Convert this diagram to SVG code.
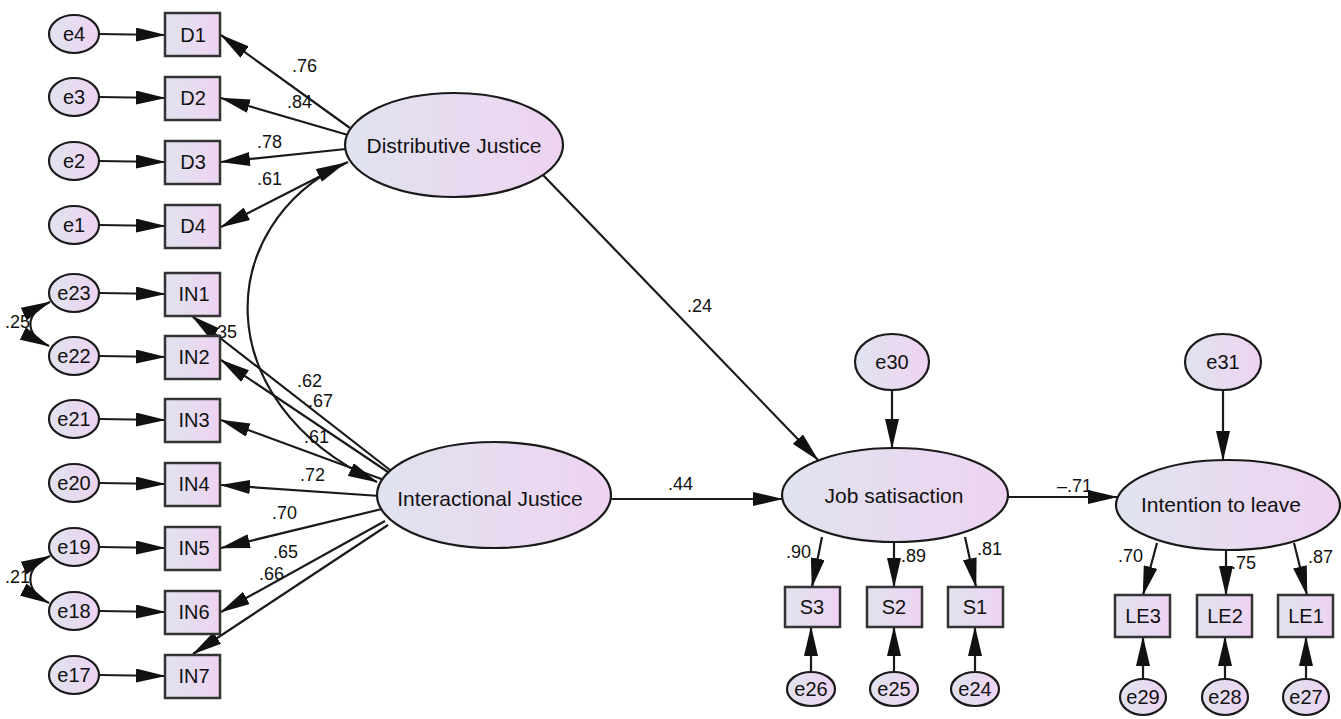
<svg xmlns="http://www.w3.org/2000/svg" width="1341" height="719" viewBox="0 0 1341 719">
<defs>
<linearGradient id="fillg" x1="0" y1="0" x2="1" y2="0">
<stop offset="0" stop-color="#e0e3ef"/>
<stop offset="1" stop-color="#eed3f1"/>
</linearGradient>
<marker id="ah" markerUnits="userSpaceOnUse" markerWidth="30" markerHeight="14" refX="29" refY="7" orient="auto-start-reverse">
<path d="M0,0 L30,7 L0,14 Z" fill="#111"/>
</marker>
</defs>
<style>
.box{fill:url(#fillg);stroke:#333;stroke-width:2.5}
.ell{fill:url(#fillg);stroke:#1a1a1a;stroke-width:2.2}
.lbl{font-family:"Liberation Sans",Arial,sans-serif;font-size:20px;fill:#111;text-anchor:middle}
.big{font-family:"Liberation Sans",Arial,sans-serif;font-size:21px;fill:#111;text-anchor:middle}
.coef{font-family:"Liberation Sans",Arial,sans-serif;font-size:18px;fill:#111}
.c{fill:none;stroke:#1a1a1a;stroke-width:2.2;marker-end:url(#ah)}
.cc{fill:none;stroke:#1a1a1a;stroke-width:2.2;marker-end:url(#ah);marker-start:url(#ah)}
</style>
<rect width="1341" height="719" fill="#ffffff"/>

<g id="connectors">
<line class="c" x1="99" y1="34" x2="165" y2="35"/>
<line class="c" x1="99" y1="97" x2="165" y2="98"/>
<line class="c" x1="99" y1="161" x2="165" y2="162"/>
<line class="c" x1="99" y1="225" x2="165" y2="226"/>
<line class="c" x1="99" y1="293" x2="165" y2="294"/>
<line class="c" x1="99" y1="356" x2="165" y2="357"/>
<line class="c" x1="99" y1="419" x2="165" y2="420"/>
<line class="c" x1="99" y1="483" x2="165" y2="484"/>
<line class="c" x1="99" y1="547" x2="165" y2="548"/>
<line class="c" x1="99" y1="611" x2="165" y2="612"/>
<line class="c" x1="99" y1="675" x2="165" y2="676"/>
<line class="c" x1="350" y1="128" x2="221" y2="35"/>
<line class="c" x1="348" y1="135" x2="221" y2="98"/>
<line class="c" x1="346" y1="149" x2="221" y2="162"/>
<line class="c" x1="348" y1="162" x2="221" y2="227"/>
<line class="c" x1="390" y1="470" x2="192" y2="316"/>
<line class="c" x1="388" y1="472" x2="221" y2="360"/>
<line class="c" x1="384" y1="480" x2="221" y2="420"/>
<line class="c" x1="380" y1="496" x2="221" y2="485"/>
<line class="c" x1="382" y1="509" x2="221" y2="548"/>
<line class="c" x1="385" y1="521" x2="221" y2="612"/>
<line class="c" x1="388" y1="525" x2="193" y2="654"/>
<path class="cc" d="M 345,163 C 215,225 205,400 377,482"/>
<path class="cc" d="M 50,302 C 24,314 24,334 49,346"/>
<path class="cc" d="M 50,556 C 24,568 24,590 49,603"/>
<line class="c" x1="543" y1="175" x2="818" y2="460"/>
<line class="c" x1="611" y1="499" x2="782" y2="499"/>
<line class="c" x1="1008" y1="497" x2="1117" y2="497"/>
<line class="c" x1="892" y1="390" x2="892" y2="448"/>
<line class="c" x1="1223" y1="390" x2="1223" y2="460"/>
<line class="c" x1="822" y1="537" x2="812" y2="587"/>
<line class="c" x1="894" y1="542" x2="894" y2="587"/>
<line class="c" x1="965" y1="537" x2="976" y2="587"/>
<line class="c" x1="811" y1="672" x2="811" y2="627"/>
<line class="c" x1="894" y1="672" x2="894" y2="627"/>
<line class="c" x1="975" y1="672" x2="975" y2="627"/>
<line class="c" x1="1157" y1="543" x2="1143" y2="595"/>
<line class="c" x1="1226" y1="550" x2="1226" y2="595"/>
<line class="c" x1="1294" y1="543" x2="1307" y2="595"/>
<line class="c" x1="1143" y1="679" x2="1143" y2="637"/>
<line class="c" x1="1225" y1="679" x2="1225" y2="637"/>
<line class="c" x1="1306" y1="679" x2="1306" y2="637"/>
</g>

<g id="coefficients">
<text class="coef" x="292" y="72">.76</text>
<text class="coef" x="287" y="108">.84</text>
<text class="coef" x="257" y="148">.78</text>
<text class="coef" x="257" y="185">.61</text>
<text class="coef" x="5" y="328">.25</text>
<text class="coef" x="212" y="338">.35</text>
<text class="coef" x="297" y="387">.62</text>
<text class="coef" x="308" y="407">.67</text>
<text class="coef" x="304" y="443">.61</text>
<text class="coef" x="300" y="481">.72</text>
<text class="coef" x="272" y="519">.70</text>
<text class="coef" x="273" y="558">.65</text>
<text class="coef" x="259" y="580">.66</text>
<text class="coef" x="5" y="583">.21</text>
<text class="coef" x="687" y="312">.24</text>
<text class="coef" x="668" y="490">.44</text>
<text class="coef" x="1057" y="492">–.71</text>
<text class="coef" x="786" y="558">.90</text>
<text class="coef" x="901" y="562">.89</text>
<text class="coef" x="977" y="555">.81</text>
<text class="coef" x="1118" y="562">.70</text>
<text class="coef" x="1231" y="569">.75</text>
<text class="coef" x="1308" y="563">.87</text>
</g>

<g id="e4"><ellipse class="ell" cx="74" cy="34" rx="25" ry="19"/><text class="lbl" x="74" y="41">e4</text></g>
<g id="e3"><ellipse class="ell" cx="74" cy="97" rx="25" ry="19"/><text class="lbl" x="74" y="104">e3</text></g>
<g id="e2"><ellipse class="ell" cx="74" cy="161" rx="25" ry="19"/><text class="lbl" x="74" y="168">e2</text></g>
<g id="e1"><ellipse class="ell" cx="74" cy="225" rx="25" ry="19"/><text class="lbl" x="74" y="232">e1</text></g>
<g id="e23"><ellipse class="ell" cx="74" cy="293" rx="25" ry="19"/><text class="lbl" x="74" y="300">e23</text></g>
<g id="e22"><ellipse class="ell" cx="74" cy="356" rx="25" ry="19"/><text class="lbl" x="74" y="363">e22</text></g>
<g id="e21"><ellipse class="ell" cx="74" cy="419" rx="25" ry="19"/><text class="lbl" x="74" y="426">e21</text></g>
<g id="e20"><ellipse class="ell" cx="74" cy="483" rx="25" ry="19"/><text class="lbl" x="74" y="490">e20</text></g>
<g id="e19"><ellipse class="ell" cx="74" cy="547" rx="25" ry="19"/><text class="lbl" x="74" y="554">e19</text></g>
<g id="e18"><ellipse class="ell" cx="74" cy="611" rx="25" ry="19"/><text class="lbl" x="74" y="618">e18</text></g>
<g id="e17"><ellipse class="ell" cx="74" cy="675" rx="25" ry="19"/><text class="lbl" x="74" y="682">e17</text></g>

<g id="D1"><rect class="box" x="165" y="13" width="55" height="43"/><text class="lbl" x="193" y="42">D1</text></g>
<g id="D2"><rect class="box" x="165" y="77" width="55" height="43"/><text class="lbl" x="193" y="105">D2</text></g>
<g id="D3"><rect class="box" x="165" y="141" width="55" height="43"/><text class="lbl" x="193" y="169">D3</text></g>
<g id="D4"><rect class="box" x="165" y="205" width="55" height="43"/><text class="lbl" x="193" y="233">D4</text></g>
<g id="IN1"><rect class="box" x="165" y="273" width="55" height="43"/><text class="lbl" x="194" y="301">IN1</text></g>
<g id="IN2"><rect class="box" x="165" y="336" width="55" height="43"/><text class="lbl" x="194" y="364">IN2</text></g>
<g id="IN3"><rect class="box" x="165" y="399" width="55" height="43"/><text class="lbl" x="194" y="427">IN3</text></g>
<g id="IN4"><rect class="box" x="165" y="463" width="55" height="43"/><text class="lbl" x="194" y="491">IN4</text></g>
<g id="IN5"><rect class="box" x="165" y="527" width="55" height="43"/><text class="lbl" x="194" y="555">IN5</text></g>
<g id="IN6"><rect class="box" x="165" y="591" width="55" height="43"/><text class="lbl" x="194" y="619">IN6</text></g>
<g id="IN7"><rect class="box" x="165" y="655" width="55" height="43"/><text class="lbl" x="194" y="683">IN7</text></g>

<g id="DistributiveJustice"><ellipse class="ell" cx="454" cy="145" rx="109" ry="52"/><text class="big" x="454" y="153">Distributive Justice</text></g>
<g id="InteractionalJustice"><ellipse class="ell" cx="494" cy="495" rx="117" ry="53"/><text class="big" x="490" y="506">Interactional Justice</text></g>
<g id="JobSatisaction"><ellipse class="ell" cx="895" cy="495" rx="113" ry="47"/><text class="big" x="894" y="503">Job satisaction</text></g>
<g id="IntentionToLeave"><ellipse class="ell" cx="1228" cy="505" rx="112" ry="45"/><text class="big" x="1221" y="512">Intention to leave</text></g>

<g id="e30"><ellipse class="ell" cx="892" cy="362" rx="37" ry="28"/><text class="lbl" x="892" y="369">e30</text></g>
<g id="e31"><ellipse class="ell" cx="1223" cy="362" rx="38" ry="28"/><text class="lbl" x="1223" y="369">e31</text></g>

<g id="S3"><rect class="box" x="785" y="587" width="55" height="40"/><text class="lbl" x="812" y="614">S3</text></g>
<g id="S2"><rect class="box" x="867" y="587" width="55" height="40"/><text class="lbl" x="894" y="614">S2</text></g>
<g id="S1"><rect class="box" x="948" y="587" width="55" height="40"/><text class="lbl" x="975" y="614">S1</text></g>

<g id="e26"><ellipse class="ell" cx="811" cy="689" rx="24" ry="17"/><text class="lbl" x="811" y="696">e26</text></g>
<g id="e25"><ellipse class="ell" cx="894" cy="689" rx="24" ry="17"/><text class="lbl" x="894" y="696">e25</text></g>
<g id="e24"><ellipse class="ell" cx="975" cy="689" rx="24" ry="17"/><text class="lbl" x="975" y="696">e24</text></g>

<g id="LE3"><rect class="box" x="1115" y="595" width="55" height="42"/><text class="lbl" x="1143" y="623">LE3</text></g>
<g id="LE2"><rect class="box" x="1197" y="595" width="55" height="42"/><text class="lbl" x="1225" y="623">LE2</text></g>
<g id="LE1"><rect class="box" x="1278" y="595" width="55" height="42"/><text class="lbl" x="1306" y="623">LE1</text></g>

<g id="e29"><ellipse class="ell" cx="1143" cy="697" rx="23" ry="18"/><text class="lbl" x="1143" y="704">e29</text></g>
<g id="e28"><ellipse class="ell" cx="1225" cy="697" rx="23" ry="18"/><text class="lbl" x="1225" y="704">e28</text></g>
<g id="e27"><ellipse class="ell" cx="1306" cy="697" rx="23" ry="18"/><text class="lbl" x="1306" y="704">e27</text></g>
</svg>
